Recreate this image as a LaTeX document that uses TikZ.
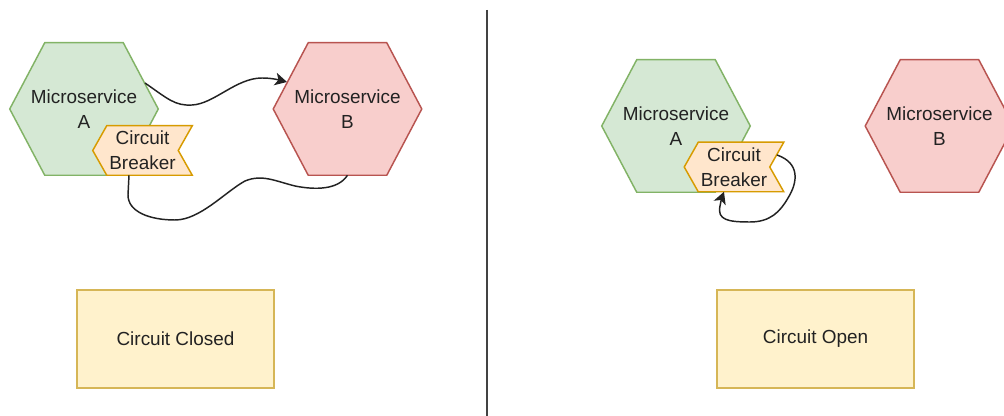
\documentclass[tikz,border=0pt]{standalone}
\usepackage{fontspec}
\setmainfont{Liberation Sans}
\usetikzlibrary{arrows.meta,backgrounds}

\definecolor{hexAfill}{HTML}{D5E8D4}
\definecolor{hexAline}{HTML}{82B366}
\definecolor{hexBfill}{HTML}{F8CECC}
\definecolor{hexBline}{HTML}{B85450}
\definecolor{cbfill}{HTML}{FFE6CC}
\definecolor{cbline}{HTML}{D79B00}
\definecolor{boxfill}{HTML}{FFF2CC}
\definecolor{boxline}{HTML}{D6B656}
\definecolor{ink}{HTML}{222222}

\tikzset{
  lbl/.style={font=\fontsize{14.2}{18.5}\selectfont, text=ink, align=center, inner sep=0pt},
  hexnode/.style={lbl, shape=rectangle, minimum width=111pt, minimum height=99pt},
  cbnode/.style={lbl, shape=rectangle, minimum width=74.25pt, minimum height=36.75pt},
  statebox/.style={lbl, shape=rectangle, draw=boxline, fill=boxfill, line width=1.1pt,
    minimum width=147.75pt, minimum height=73.5pt},
  edge/.style={draw=ink, line width=1.1pt},
  tip/.style={-{Stealth[length=9pt,width=9.5pt,inset=2.4pt]}},
}

\begin{document}
\begin{tikzpicture}[x=0.75pt, y=-0.75pt]
\useasboundingbox (0,0) rectangle (1004,416);
\clip (0,0) rectangle (1004,416);

% divider between the two states
\draw[ink!85, line width=1.2pt] (487,10) -- (487,416);

% closed circuit
\node[hexnode] (la)  at (84,109)    {Microservice\\A};
\node[hexnode] (lb)  at (347.5,109) {Microservice\\B};
\node[cbnode]  (lcb) at (142.5,150.5) {Circuit\\Breaker};
\node[statebox] (closed) at (175.5,339) {Circuit Closed};

% open circuit
\node[hexnode] (ra)  at (676,126)   {Microservice\\A};
\node[hexnode] (rb)  at (939.5,126) {Microservice\\B};
\node[cbnode]  (rcb) at (734,167)   {Circuit\\Breaker};
\node[statebox] (open) at (815.5,339) {Circuit Open};

\begin{scope}[on background layer]
  \fill[white] (0,0) rectangle (1004,416);
  \foreach \n/\f/\l in {la/hexAfill/hexAline, lb/hexBfill/hexBline,
                        ra/hexAfill/hexAline, rb/hexBfill/hexBline}
    \draw[fill=\f, draw=\l, line width=1.1pt, line join=miter]
      (\n.west) -- ([xshift=26.25pt]\n.north west) -- ([xshift=-26.25pt]\n.north east)
      -- (\n.east) -- ([xshift=-26.25pt]\n.south east) -- ([xshift=26.25pt]\n.south west) -- cycle;
  \foreach \n in {lcb, rcb}
    \draw[fill=cbfill, draw=cbline, line width=1.1pt, line join=miter]
      (\n.west) -- ([xshift=10.5pt]\n.north west) -- (\n.north east)
      -- ([xshift=-10.5pt]\n.east) -- (\n.south east) -- ([xshift=10.5pt]\n.south west) -- cycle;
\end{scope}

% request from A to B
\draw[edge, tip] ([shift={(61,-26)}]la.center)
  .. controls (168,99) and (175,106) .. (192,105)
  .. controls (214,104) and (236,78) .. (262,78)
  .. controls (272,78) and (279,80) .. ([shift={(-60.5,-27)}]lb.center);

% response from B back to the breaker
\draw[edge] (lb.south)
  .. controls (338,190) and (315,190) .. (295,186)
  .. controls (275,181) and (262,174) .. (245,181)
  .. controls (225,192) and (200,220) .. (175,220)
  .. controls (150,220) and (128,212) .. (128,195)
  -- ([shift={(-13.5,0)}]lcb.south);

% breaker answers by itself
\draw[edge, tip] ([shift={(43,-12)}]rcb.center)
  .. controls (800,163) and (798,182) .. (788,198)
  .. controls (780,212) and (770,222) .. (750,222)
  .. controls (728,222) and (717,220) .. (720,206)
  .. controls (721,201) and (722,197) .. ([shift={(-10,0)}]rcb.south);
\end{tikzpicture}
\end{document}
